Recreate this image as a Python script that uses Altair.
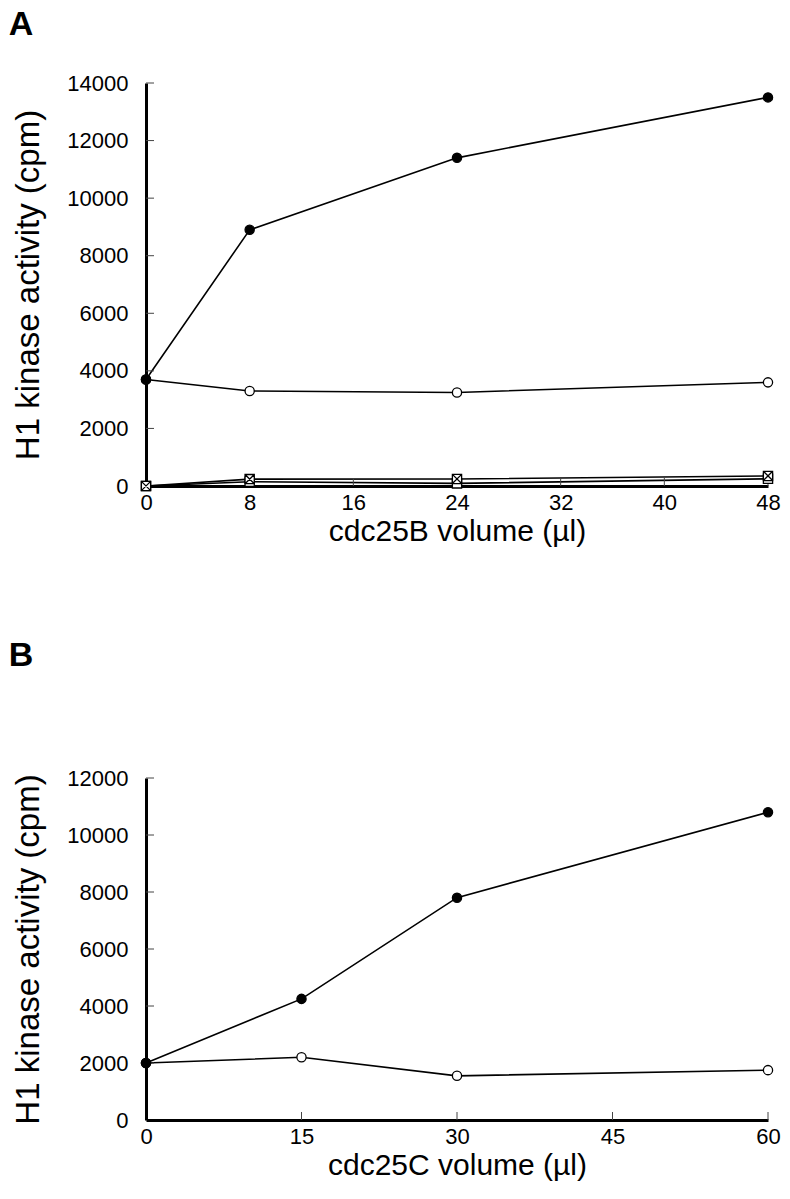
import altair as alt
import pandas as pd

# ---------------- data ----------------
# Panel A
a_x = [0, 8, 24, 48]
a_filled = [3700, 8900, 11400, 13500]
a_open = [3700, 3300, 3250, 3600]
a_crossed = [0, 240, 245, 350]
a_square = [0, 150, 90, 250]
a_xticks = [0, 8, 16, 24, 32, 40, 48]
a_yticks = [0, 2000, 4000, 6000, 8000, 10000, 12000, 14000]

# Panel B
b_x = [0, 15, 30, 60]
b_filled = [2000, 4250, 7800, 10800]
b_open = [2000, 2200, 1550, 1750]
b_xticks = [0, 15, 30, 45, 60]
b_yticks = [0, 2000, 4000, 6000, 8000, 10000, 12000]

FONT = "Liberation Sans"
CROSSED = "M-1,-1H1V1H-1Z M-1,-1L1,1 M1,-1L-1,1"

def long_df(xs, series):
    rows = []
    for order, (name, ys) in enumerate(series):
        for x, y in zip(xs, ys):
            rows.append({"x": x, "y": y, "series": name, "order": order})
    return pd.DataFrame(rows)

def panel(letter, df, xticks, yticks, xmax, ymax, xtitle, w, h, shapes, fills, toff):
    names = list(dict.fromkeys(df["series"]))
    xs = alt.Scale(domain=[0, xmax], nice=False, zero=True)
    ys = alt.Scale(domain=[0, ymax], nice=False)
    xax = alt.Axis(values=xticks, ticks=False, grid=False, domainWidth=3,
                   domainColor="black", labelFont=FONT, labelFontSize=22,
                   labelColor="black", labelPadding=6, title=xtitle, format="d",
                   titleFont=FONT, titleFontSize=30, titleFontWeight="normal",
                   titleColor="black", titlePadding=3, labelFlush=False)
    yax = alt.Axis(values=yticks, ticks=False, grid=False, domainWidth=3,
                   domainColor="black", labelFont=FONT, labelFontSize=22,
                   labelColor="black", labelPadding=18, format="d",
                   title="H1 kinase activity (cpm)", titleFont=FONT,
                   titleFontSize=33, titleFontWeight="normal",
                   titleColor="black", titlePadding=21, labelFlush=False)
    base = alt.Chart(df)
    lines = base.mark_line(color="black", strokeWidth=1.6).encode(
        x=alt.X("x:Q", scale=xs, axis=xax),
        y=alt.Y("y:Q", scale=ys, axis=yax),
        detail="series:N",
    )
    pts = base.mark_point(size=85, stroke="black", strokeWidth=1.3,
                          opacity=1, filled=False).encode(
        x=alt.X("x:Q", scale=xs, axis=xax),
        y=alt.Y("y:Q", scale=ys, axis=yax),
        shape=alt.Shape("series:N", scale=alt.Scale(domain=names, range=shapes), legend=None),
        fill=alt.Fill("series:N", scale=alt.Scale(domain=names, range=fills), legend=None),
        order=alt.Order("order:Q", sort="descending"),
    )
    yt = alt.Chart(pd.DataFrame({"t": yticks[1:]})).mark_rule(
        color="#444", strokeWidth=1).encode(
        y=alt.Y("t:Q", scale=ys, axis=yax), x=alt.value(0), x2=alt.value(8))
    xt = alt.Chart(pd.DataFrame({"t": xticks[1:]})).mark_rule(
        color="#444", strokeWidth=1).encode(
        x=alt.X("t:Q", scale=xs, axis=xax), y=alt.value(h), y2=alt.value(h - 8))
    return alt.layer(lines, yt, xt, pts).properties(
        width=w, height=h,
        view=alt.ViewConfig(stroke="transparent", strokeWidth=0),
        title=alt.TitleParams(letter, anchor="start", font=FONT, fontSize=34,
                              fontWeight="bold", color="black", offset=toff,
                              dx=-4),
    )

dfa = long_df(a_x, [("filled", a_filled), ("open", a_open),
                    ("crossed", a_crossed), ("square", a_square)])
dfb = long_df(b_x, [("filled", b_filled), ("open", b_open)])

pa = panel("A", dfa, a_xticks, a_yticks, 48, 14000, "cdc25B volume (µl)",
           622, 403, ["circle", "circle", CROSSED, "square"],
           ["black", "white", "white", "white"], 30)
pb = panel("B", dfb, b_xticks, b_yticks, 60, 12000, "cdc25C volume (µl)",
           622, 342, ["circle", "circle"], ["black", "white"], 94)

chart = alt.vconcat(pa, pb, spacing=93).configure_view(
    stroke="transparent", strokeWidth=0).configure_axis(grid=False).configure(
    background="white")
chart = chart.properties(padding={"left": 0, "top": 0, "right": 0, "bottom": 2})

chart.save("out.html", embed_options={"renderer": "svg", "actions": False})
